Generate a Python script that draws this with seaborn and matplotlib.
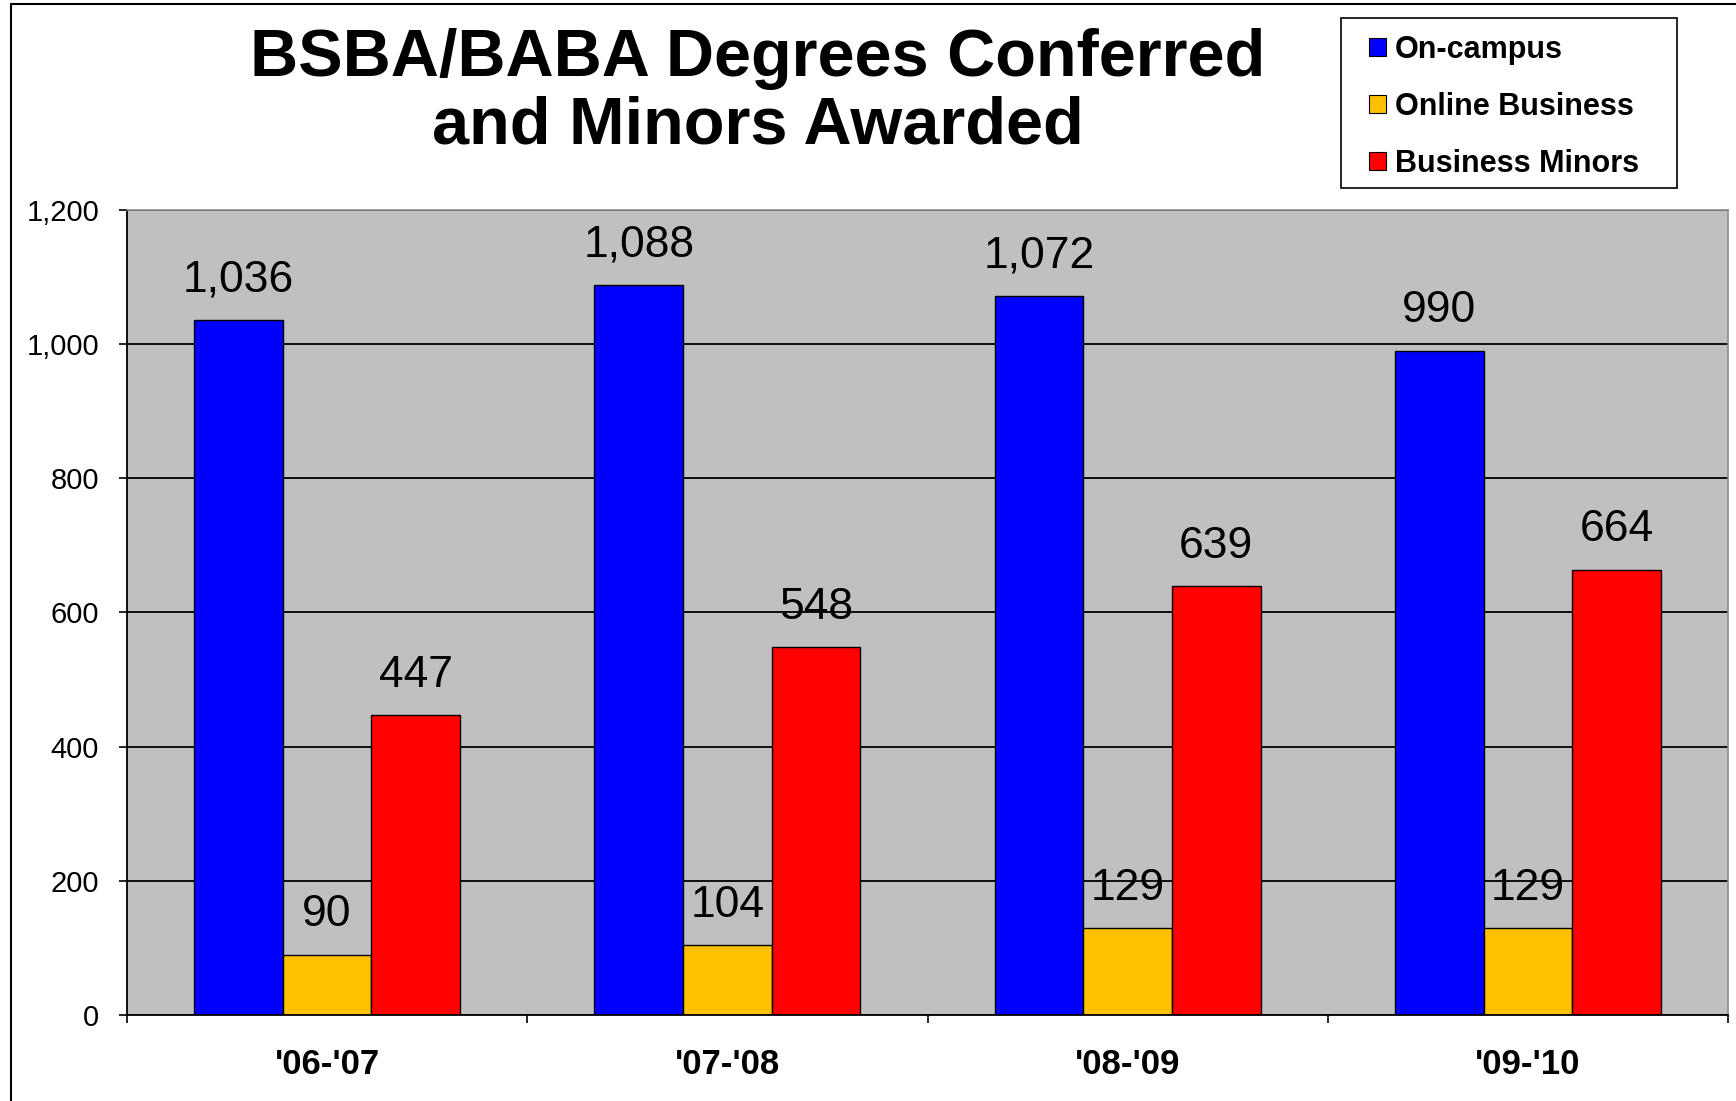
import matplotlib
matplotlib.use("Agg")
import matplotlib.pyplot as plt
from matplotlib.patches import Patch, Rectangle
from matplotlib.lines import Line2D
from matplotlib.ticker import FuncFormatter
import pandas as pd
import seaborn as sns

years = ["'06-'07", "'07-'08", "'08-'09", "'09-'10"]
series = ["On-campus", "Online Business", "Business Minors"]
on_campus = [1036, 1088, 1072, 990]
online = [90, 104, 129, 129]
minors = [447, 548, 639, 664]
colors = ["#0000FF", "#FFC000", "#FF0000"]

rows = []
for name, vals in zip(series, [on_campus, online, minors]):
    for y, v in zip(years, vals):
        rows.append({"year": y, "type": name, "value": v})
df = pd.DataFrame(rows)

sns.set_style("white")
plt.rcParams["font.family"] = ["Liberation Sans", "DejaVu Sans"]
plt.rcParams["text.color"] = "black"
plt.rcParams["xtick.color"] = "black"
plt.rcParams["ytick.color"] = "black"

W, H = 1736, 1101
fig = plt.figure(figsize=(W / 100, H / 100), dpi=100)
ax = fig.add_axes([127 / W, 1 - 1015 / H, (1728 - 127) / W, (1015 - 210) / H])
ax.set_facecolor("#C0C0C0")

sns.barplot(data=df, x="year", y="value", hue="type", palette=colors,
            width=0.665, edgecolor="black", linewidth=1, saturation=1,
            legend=False, ax=ax)

for cont in ax.containers:
    vals = [b.get_height() for b in cont]
    ax.bar_label(cont, labels=[f"{int(v):,}" for v in vals], padding=14,
                 fontsize=32, color="black")

ax.set_ylim(0, 1200)
ax.set_xlim(-0.5, 3.5)
ax.set_yticks(range(0, 1201, 200))
ax.yaxis.set_major_formatter(FuncFormatter(lambda v, p: f"{int(v):,}"))
ax.yaxis.grid(True, color="black", linewidth=1.3)
ax.set_axisbelow(True)
ax.tick_params(axis="y", which="major", left=True, length=6, width=1.2,
               labelsize=21, pad=14, color="black", labelcolor="black")

ax.set_xticks([-0.5, 0.5, 1.5, 2.5, 3.5])
ax.set_xticklabels([])
ax.set_xticks(range(4), minor=True)
ax.set_xticklabels(years, minor=True, fontsize=25, fontweight="bold")
ax.tick_params(axis="x", which="major", bottom=True, length=6, width=1.2, color="black")
ax.tick_params(axis="x", which="minor", bottom=True, length=0, pad=24, labelcolor="black")
ax.set_xlabel("")
ax.set_ylabel("")

for side in ["left", "bottom"]:
    ax.spines[side].set_color("black")
    ax.spines[side].set_linewidth(1.3)
for side in ["top", "right"]:
    ax.spines[side].set_color("#8C8C8C")
    ax.spines[side].set_linewidth(1.2)

fig.text(758 / W, 1 - 93 / H, "BSBA/BABA Degrees Conferred\nand Minors Awarded",
         ha="center", va="center", fontsize=48, fontweight="bold", linespacing=1.12,
         color="black")

# legend box drawn separately so the padding can match
fig.add_artist(Rectangle((1341 / W, 1 - 188 / H), (1677 - 1341) / W, (188 - 18) / H,
                         transform=fig.transFigure, facecolor="white",
                         edgecolor="black", linewidth=1.2, zorder=2))
handles = [Patch(facecolor=c, edgecolor="black", linewidth=0.8) for c in colors]
leg = fig.legend(handles, series, loc="upper left",
                 bbox_to_anchor=(1369 / W, 1 - 35 / H),
                 frameon=False,
                 prop={"weight": "bold", "size": 22},
                 handlelength=0.55, handleheight=0.55, handletextpad=0.3,
                 labelspacing=0.88, borderpad=0, borderaxespad=0)
leg.set_zorder(3)
for t in leg.get_texts():
    t.set_color("black")

fig.add_artist(Line2D([11 / W, 11 / W], [0, 1 - 4 / H],
                      transform=fig.transFigure, color="black", linewidth=1.5))
fig.add_artist(Line2D([11 / W, 1], [1 - 4 / H, 1 - 4 / H],
                      transform=fig.transFigure, color="black", linewidth=1.5))

plt.savefig("out.png", dpi=100)
